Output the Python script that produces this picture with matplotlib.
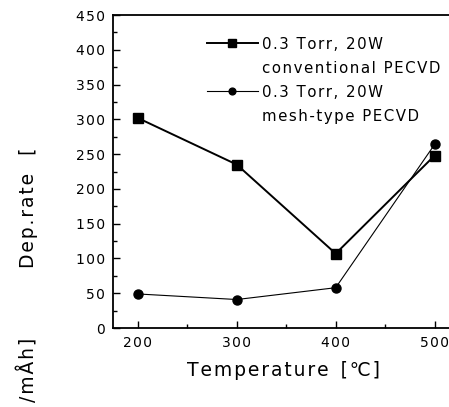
import numpy as np
import matplotlib
matplotlib.use("Agg")
from matplotlib import pyplot as plt
from matplotlib.lines import Line2D
from matplotlib.ticker import MultipleLocator, FuncFormatter

temps = [200, 300, 400, 500]
conv_rate = [302, 235, 107, 248]
mesh_rate = [49, 41, 58, 264]
labels = [["0.3 Torr, 20W", "conventional PECVD"], ["0.3 Torr, 20W", "mesh-type PECVD"]]

plt.rcParams['font.family'] = ['DejaVu Sans', 'Liberation Sans']

HS = '\u200a'


def spaced(s):
    # the scanned figure has wide letter spacing
    return HS.join(s)


fig = plt.figure(figsize=(4.49, 4.07), dpi=100)
ax = fig.add_axes([0.252, 0.194, 0.76, 0.769])

l1, = ax.plot(temps, conv_rate, '-s', color='black', lw=1.4, ms=7)
l2, = ax.plot(temps, mesh_rate, '-o', color='black', lw=0.8, ms=6.5)

ax.set_xlim(175, 520)
ax.set_ylim(0, 450)
ax.xaxis.set_major_locator(MultipleLocator(100))
ax.xaxis.set_minor_locator(MultipleLocator(50))
ax.yaxis.set_major_locator(MultipleLocator(50))
ax.yaxis.set_minor_locator(MultipleLocator(25))
fmt = FuncFormatter(lambda v, p: spaced("%d" % v))
ax.xaxis.set_major_formatter(fmt)
ax.yaxis.set_major_formatter(fmt)
ax.tick_params(which='both', direction='in', top=False, right=False, labelsize=10)
ax.tick_params(which='major', length=5, width=1, pad=6)
ax.tick_params(which='minor', length=3, width=1)
ax.spines['right'].set_visible(False)
for s in ['left', 'bottom', 'top']:
    ax.spines[s].set_linewidth(1.3)

ax.set_xlabel(spaced("Temperature") + "  " + spaced("[\u2103]"), fontsize=13.5, labelpad=8)

fig.text(0.063, 0.49, spaced("Dep.rate") + "   [", rotation=90, fontsize=13.5,
         ha='center', va='center')
fig.text(0.063, 0.092, spaced("/mÅh]"), rotation=90, fontsize=13.5, ha='center', va='center')

# second line of each label sits under the first, with no handle of its own
blank = Line2D([], [], color='none')
handles = [l1, blank, l2, blank]
texts = [spaced(labels[0][0]), spaced(labels[0][1]), spaced(labels[1][0]), spaced(labels[1][1])]
leg = ax.legend(handles, texts, loc='upper right', bbox_to_anchor=(0.98, 0.955), frameon=False,
                fontsize=10.8, handlelength=3.4, labelspacing=0.6, handletextpad=0.25,
                markerscale=0.75, borderaxespad=0.1)

fig.savefig("out.png", dpi=100)
